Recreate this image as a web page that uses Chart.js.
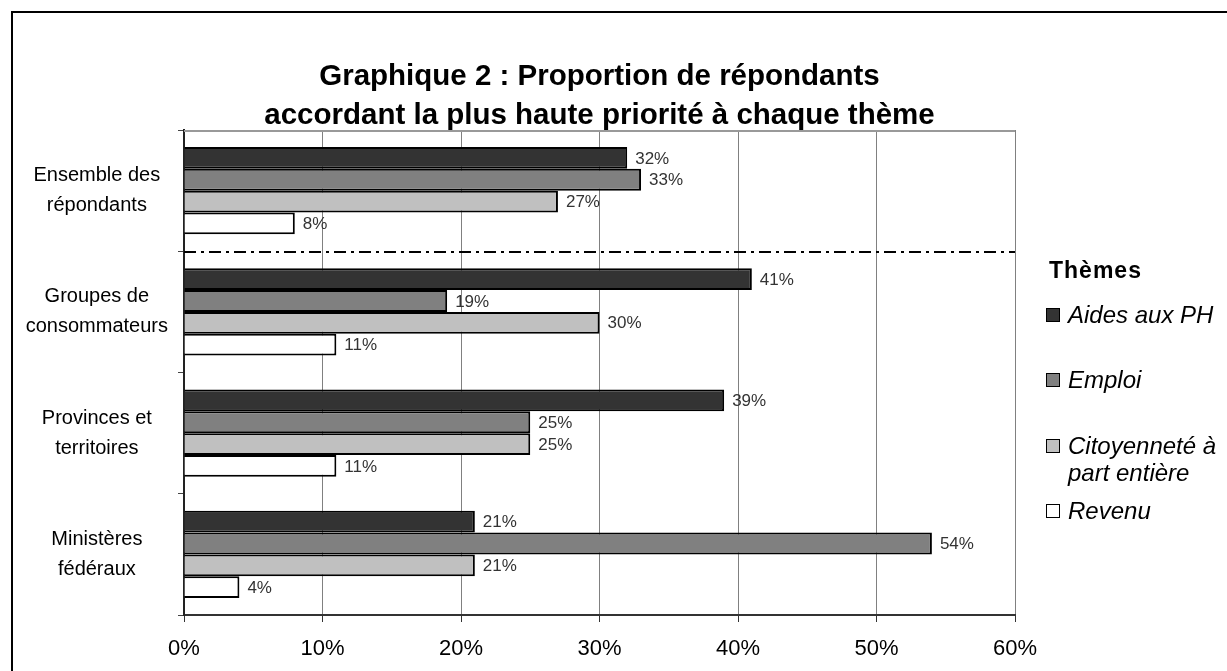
<!DOCTYPE html>
<html>
<head>
<meta charset="utf-8">
<script src="https://cdn.jsdelivr.net/npm/chart.js@4.4.1/dist/chart.umd.min.js"></script>
<style>
  html, body { margin: 0; padding: 0; background: #ffffff; overflow: hidden; width: 1227px; height: 671px; }
  #frame { position: absolute; left: 11px; top: 11px; width: 1400px; height: 900px; border: 2px solid #000; box-sizing: border-box; }
  #c { position: absolute; left: 0; top: 0; }
</style>
</head>
<body>
<div id="frame"></div>
<canvas id="c" width="1227" height="671"></canvas>
<script>
// ---- Data ----
const categories = [
  ['Ensemble des', 'répondants'],
  ['Groupes de', 'consommateurs'],
  ['Provinces et', 'territoires'],
  ['Ministères', 'fédéraux']
];
const seriesNames = ['Aides aux PH', 'Emploi', 'Citoyenneté à part entière', 'Revenu'];
const legendLines = [['Aides aux PH'], ['Emploi'], ['Citoyenneté à', 'part entière'], ['Revenu']];
const aidesAuxPH = [32, 41, 39, 21];
const emploi = [33, 19, 25, 54];
const citoyennete = [27, 30, 25, 21];
const revenu = [8, 11, 11, 4];
const xTicks = [0, 10, 20, 30, 40, 50, 60];
const titleLines = ['Graphique 2 : Proportion de répondants', 'accordant la plus haute priorité à chaque thème'];
const legendTitle = 'Thèmes';

const seriesValues = [aidesAuxPH, emploi, citoyennete, revenu];
const seriesColors = ['#333333', '#808080', '#c0c0c0', '#ffffff'];
const FONT = '"Liberation Sans", Arial, Helvetica, sans-serif';

const dataLabelPlugin = {
  id: 'dataLabels',
  afterDatasetsDraw(chart) {
    const ctx = chart.ctx;
    ctx.save();
    ctx.font = '17px ' + FONT;
    ctx.fillStyle = '#333333';
    ctx.textAlign = 'left';
    ctx.textBaseline = 'middle';
    chart.data.datasets.forEach((ds, di) => {
      const meta = chart.getDatasetMeta(di);
      meta.data.forEach((el, i) => {
        ctx.fillText(ds.data[i] + '%', el.x + 8, el.y + 1);
      });
    });
    ctx.restore();
  }
};

const separatorPlugin = {
  id: 'separator',
  afterDatasetsDraw(chart) {
    const ctx = chart.ctx;
    const y = chart.scales.y;
    const area = chart.chartArea;
    const yy = Math.round((y.getPixelForValue(0) + y.getPixelForValue(1)) / 2) + 1;
    ctx.save();
    // top frame line of plot area
    ctx.strokeStyle = '#999999';
    ctx.lineWidth = 2;
    ctx.beginPath();
    ctx.moveTo(area.left, area.top + 1);
    ctx.lineTo(area.right, area.top + 1);
    ctx.stroke();
    // dash-dot separator
    ctx.strokeStyle = '#000000';
    ctx.lineWidth = 2;
    ctx.setLineDash([12, 5, 3, 5]);
    ctx.beginPath();
    ctx.moveTo(area.left, yy);
    ctx.lineTo(area.right, yy);
    ctx.stroke();
    ctx.restore();
  }
};

const legendPlugin = {
  id: 'customLegend',
  afterDraw(chart) {
    const ctx = chart.ctx;
    const area = chart.chartArea;
    const x0 = area.right + 31;
    ctx.save();
    ctx.fillStyle = '#000';
    ctx.textAlign = 'left';
    ctx.textBaseline = 'middle';
    ctx.font = 'bold 23px ' + FONT;
    try { ctx.letterSpacing = '1px'; } catch (e) {}
    ctx.fillText(legendTitle, x0 + 3, 272);
    try { ctx.letterSpacing = '0px'; } catch (e) {}
    const itemY = [316, 381, 447, 512];
    ctx.font = 'italic 24px ' + FONT;
    chart.data.datasets.forEach((ds, i) => {
      const yc = itemY[i];
      ctx.fillStyle = ds.backgroundColor;
      ctx.fillRect(x0 + 0.5, yc - 7.5, 13, 13);
      ctx.strokeStyle = '#000';
      ctx.lineWidth = 1;
      ctx.strokeRect(x0 + 0.5, yc - 7.5, 13, 13);
      ctx.fillStyle = '#000';
      legendLines[i].forEach((line, k) => {
        ctx.fillText(line, x0 + 22, yc + k * 27);
      });
    });
    ctx.restore();
  }
};

new Chart(document.getElementById('c'), {
  type: 'bar',
  data: {
    labels: categories,
    datasets: seriesNames.map((name, i) => ({
      label: name,
      data: seriesValues[i],
      backgroundColor: seriesColors[i],
      borderColor: '#000000',
      borderWidth: 2,
      categoryPercentage: 0.72,
      barPercentage: 1.0
    }))
  },
  options: {
    indexAxis: 'y',
    responsive: false,
    devicePixelRatio: 1,
    animation: false,
    layout: { padding: { left: 0, right: 212, top: 0, bottom: 0 } },
    plugins: {
      legend: { display: false },
      tooltip: { enabled: false },
      title: {
        display: true,
        text: titleLines,
        fullSize: false,
        color: '#000',
        font: { family: FONT, size: 29.5, weight: 'bold', lineHeight: 39 / 29.5 },
        padding: { top: 57, bottom: -5 }
      }
    },
    scales: {
      x: {
        type: 'linear',
        min: 0,
        max: 60,
        afterBuildTicks(scale) { scale.ticks = xTicks.map(v => ({ value: v })); },
        afterFit(scale) { scale.height = 56; },
        ticks: {
          color: '#000',
          font: { family: FONT, size: 22 },
          padding: 14,
          callback: v => v + '%'
        },
        grid: {
          color: '#808080',
          lineWidth: 1,
          tickLength: 7,
          tickColor: '#333333',
          tickWidth: 1
        },
        border: { display: true, color: '#333333', width: 2 }
      },
      y: {
        type: 'category',
        afterFit(scale) { scale.width = 184; },
        ticks: {
          color: '#000',
          font: { family: FONT, size: 20, lineHeight: 1.5 },
          padding: 10,
          crossAlign: 'center'
        },
        grid: {
          offset: true,
          drawOnChartArea: false,
          tickLength: 6,
          tickColor: '#444444',
          tickWidth: 1
        },
        border: { display: true, color: '#222222', width: 2 }
      }
    }
  },
  plugins: [dataLabelPlugin, separatorPlugin, legendPlugin]
});
</script>
</body>
</html>
